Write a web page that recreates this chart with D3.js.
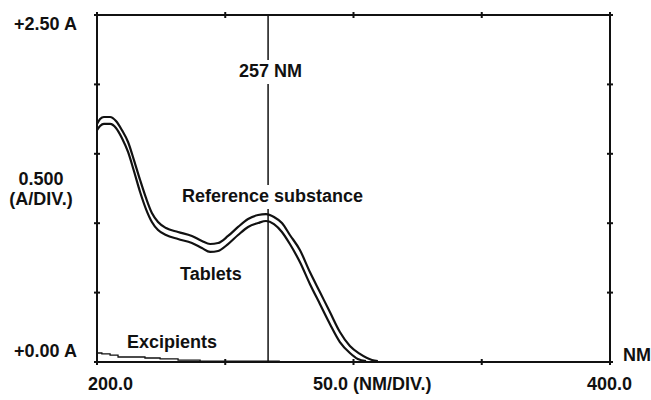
<!DOCTYPE html>
<html>
<head>
<meta charset="utf-8">
<script src="https://cdn.jsdelivr.net/npm/d3@7"></script>
<style>
    body { margin: 0; background: #fff; }
    text { font-family: "Liberation Sans", Arial, sans-serif; font-weight: bold; font-size: 18px; fill: #111; }
</style>
</head>
<body>
<div class="container"></div>
<script>
// wavelength (nm) / absorbance (A)
let refNm = [200, 201.2, 202.7, 205.1, 207.4, 209.7, 212.1, 214.4, 216.8, 219.1, 221.4, 223.8, 226.9, 231.6, 237.0, 240.9, 244.1, 247.2, 251.1, 255.0, 258.9, 262.8, 265.9, 269.0, 272.1, 275.2, 279.1, 283.0, 286.9, 290.8, 294.7, 298.6, 302.5, 307.2, 309.5];
let refA = [1.715, 1.751, 1.765, 1.765, 1.736, 1.671, 1.585, 1.455, 1.311, 1.182, 1.073, 1.009, 0.965, 0.937, 0.908, 0.872, 0.850, 0.857, 0.908, 0.973, 1.030, 1.059, 1.066, 1.045, 1.001, 0.915, 0.807, 0.648, 0.504, 0.360, 0.216, 0.115, 0.058, 0.014, 0.007];

let tabNm = [200, 201.2, 202.7, 205.1, 207.4, 209.7, 212.1, 214.4, 216.8, 219.1, 221.4, 223.8, 226.9, 231.6, 237.0, 240.9, 244.1, 247.2, 251.1, 255.0, 258.9, 262.8, 265.9, 269.0, 272.1, 275.2, 279.1, 283.0, 286.9, 290.8, 294.7, 298.6, 301.7, 304.9];
let tabA = [1.671, 1.700, 1.715, 1.715, 1.686, 1.614, 1.513, 1.376, 1.225, 1.102, 1.009, 0.951, 0.915, 0.886, 0.857, 0.821, 0.793, 0.800, 0.850, 0.915, 0.973, 1.001, 1.016, 0.994, 0.937, 0.850, 0.720, 0.562, 0.418, 0.274, 0.144, 0.065, 0.022, 0.007];

let excNm = [200, 201.9, 205.1, 208.2, 212.9, 218.7, 224.6, 231.6, 240.2, 271.3];
let excA = [0.065, 0.058, 0.050, 0.036, 0.036, 0.029, 0.022, 0.014, 0.007, 0.007];

let xTicks = [200, 250, 300, 350, 400];
let yTicks = [0, 0.5, 1.0, 1.5, 2.0, 2.5];
let markerNm = 266.7;
let markerLabel = "257 NM";

let margin = {
        top: 15,
        right: 41,
        bottom: 38,
        left: 97
    },
    width = 651 - margin.left - margin.right,
    height = 400 - margin.top - margin.bottom;

let svg = d3.select(".container")
    .append("svg")
    .attr("width", 651)
    .attr("height", 400);

let g = svg.append("g")
    .attr("transform", "translate(" + margin.left + "," + margin.top + ")");

let x = d3.scaleLinear().domain([200, 400]).range([0, width]);
let y = d3.scaleLinear().domain([0, 2.5]).range([height, 0]);

const zip = (a, b) => a.map((v, i) => [v, b[i]]);

let line = d3.line()
    .x(d => x(d[0]))
    .y(d => y(d[1]))
    .curve(d3.curveMonotoneX);

// marker line at the peak
g.append("line")
    .attr("x1", x(markerNm)).attr("x2", x(markerNm))
    .attr("y1", 0).attr("y2", height)
    .attr("stroke", "#111")
    .attr("stroke-width", 1.5);

// spectra
[[refNm, refA], [tabNm, tabA]].forEach(s => {
    g.append("path")
        .datum(zip(s[0], s[1]))
        .attr("d", line)
        .attr("fill", "none")
        .attr("stroke", "#111")
        .attr("stroke-width", 2.2);
});

g.append("path")
    .datum(zip(excNm, excA))
    .attr("d", d3.line().x(d => x(d[0])).y(d => y(d[1])).curve(d3.curveStepAfter))
    .attr("fill", "none")
    .attr("stroke", "#111")
    .attr("stroke-width", 1.3);

// frame
g.append("rect")
    .attr("width", width)
    .attr("height", height)
    .attr("fill", "none")
    .attr("stroke", "#111")
    .attr("stroke-width", 2);

// ticks crossing the frame
[0, width].forEach(px => {
    g.append("g").selectAll("line")
        .data(yTicks)
        .enter()
        .append("line")
        .attr("x1", px - 3).attr("x2", px + 3)
        .attr("y1", d => y(d)).attr("y2", d => y(d))
        .attr("stroke", "#111").attr("stroke-width", 2);
});
[0, height].forEach(py => {
    g.append("g").selectAll("line")
        .data(xTicks)
        .enter()
        .append("line")
        .attr("x1", d => x(d)).attr("x2", d => x(d))
        .attr("y1", py - 3).attr("y2", py + 3)
        .attr("stroke", "#111").attr("stroke-width", 2);
});

// labels, white box where they sit on the marker line
const label = (txt, px, py, anchor, box) => {
    let t = svg.append("text")
        .attr("x", px).attr("y", py)
        .attr("text-anchor", anchor || "start")
        .text(txt);
    if (box) {
        let b = t.node().getBBox();
        svg.insert("rect", "text")
            .attr("x", b.x - 2).attr("y", b.y - 1)
            .attr("width", b.width + 4).attr("height", b.height + 4)
            .attr("fill", "#fff");
    }
};

label(markerLabel, 239, 77, "start", true);
label("Reference substance", 182, 202, "start", true);
label("Tablets", 180, 280);
label("Excipients", 127, 348);

label("+2.50 A", 14, margin.top + y(2.5) + 15);
label("0.500", 41, 185, "middle");
label("(A/DIV.)", 41, 205, "middle");
label("+0.00 A", 14, margin.top + y(0) - 5);
label("200.0", 88, 390);
label("50.0 (NM/DIV.)", 313, 390);
label("400.0", 587, 390);
label("NM", 623, 361);
</script>
</body>
</html>
